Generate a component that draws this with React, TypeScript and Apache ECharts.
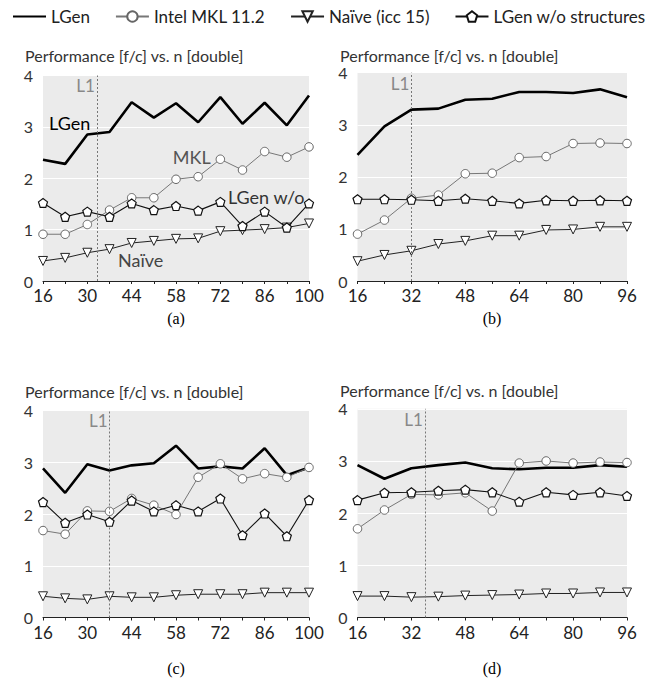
import React, { useEffect, useRef } from "react";
import * as echarts from "echarts";

const FONT = "Lato, 'Open Sans', 'DejaVu Sans', sans-serif";

const seriesNames = ["LGen", "Intel MKL 11.2", "Naïve (icc 15)", "LGen w/o structures"];

// x sizes
const nA = [16, 23, 30, 37, 44, 51, 58, 65, 72, 79, 86, 93, 100];
const nB = [16, 24, 32, 40, 48, 56, 64, 72, 80, 88, 96];

// panel (a)
const aLGen = [2.36, 2.28, 2.85, 2.9, 3.48, 3.18, 3.46, 3.09, 3.58, 3.06, 3.47, 3.03, 3.61];
const aMKL = [0.91, 0.91, 1.1, 1.38, 1.62, 1.62, 1.98, 2.03, 2.37, 2.16, 2.52, 2.41, 2.61];
const aNaive = [0.39, 0.45, 0.55, 0.62, 0.74, 0.78, 0.82, 0.83, 0.97, 0.99, 1.01, 1.04, 1.12];
const aWo = [1.52, 1.25, 1.35, 1.25, 1.51, 1.38, 1.46, 1.37, 1.54, 1.07, 1.35, 1.04, 1.51];

// panel (b)
const bLGen = [2.42, 2.97, 3.29, 3.31, 3.48, 3.5, 3.63, 3.63, 3.61, 3.68, 3.53];
const bMKL = [0.9, 1.17, 1.59, 1.65, 2.06, 2.07, 2.37, 2.39, 2.64, 2.65, 2.64];
const bNaive = [0.38, 0.5, 0.58, 0.71, 0.77, 0.87, 0.87, 0.98, 0.99, 1.04, 1.04];
const bWo = [1.57, 1.57, 1.56, 1.54, 1.58, 1.54, 1.49, 1.55, 1.54, 1.55, 1.54];

// panel (c)
const cLGen = [2.88, 2.41, 2.96, 2.84, 2.94, 2.98, 3.32, 2.88, 2.92, 2.88, 3.27, 2.75, 2.9];
const cMKL = [1.68, 1.61, 2.06, 2.05, 2.3, 2.17, 1.99, 2.71, 2.97, 2.68, 2.78, 2.71, 2.9];
const cNaive = [0.41, 0.37, 0.35, 0.41, 0.39, 0.39, 0.43, 0.45, 0.45, 0.45, 0.48, 0.48, 0.48];
const cWo = [2.23, 1.83, 1.99, 1.85, 2.26, 2.05, 2.17, 2.05, 2.3, 1.59, 2.01, 1.57, 2.27];

// panel (d)
const dLGen = [2.92, 2.66, 2.86, 2.92, 2.97, 2.86, 2.84, 2.87, 2.87, 2.92, 2.89];
const dMKL = [1.7, 2.06, 2.36, 2.35, 2.39, 2.04, 2.96, 3.0, 2.96, 2.98, 2.97];
const dNaive = [0.41, 0.41, 0.39, 0.4, 0.42, 0.43, 0.44, 0.46, 0.46, 0.48, 0.48];
const dWo = [2.25, 2.39, 2.4, 2.43, 2.45, 2.4, 2.22, 2.4, 2.35, 2.4, 2.33];

const l1Positions = [33, 32, 37, 36];
const captions = ["(a)", "(b)", "(c)", "(d)"];
const titleText = "Performance [f/c] vs. n [double]";

const PENTAGON = "path://M0,-1L0.951,-0.309L0.588,0.809L-0.588,0.809L-0.951,-0.309Z";

const panels = [
  { n: nA, lgen: aLGen, mkl: aMKL, naive: aNaive, wo: aWo, max: 100, interval: 14 },
  { n: nB, lgen: bLGen, mkl: bMKL, naive: bNaive, wo: bWo, max: 96, interval: 16 },
  { n: nA, lgen: cLGen, mkl: cMKL, naive: cNaive, wo: cWo, max: 100, interval: 14 },
  { n: nB, lgen: dLGen, mkl: dMKL, naive: dNaive, wo: dWo, max: 96, interval: 16 },
];

// annotations in panel (a), data coordinates
const annotations = [
  { text: "LGen", x: 17.9, y: 3.07, color: "#000" },
  { text: "MKL", x: 57, y: 2.41, color: "#555" },
  { text: "LGen w/o", x: 74.4, y: 1.64, color: "#333" },
  { text: "Naïve", x: 39.7, y: 0.41, color: "#444" },
];

const grids = [
  { left: 43, top: 75.5, width: 266, height: 205.5 },
  { left: 357.5, top: 72.7, width: 269.5, height: 208.3 },
  { left: 43, top: 410.5, width: 266, height: 207 },
  { left: 357.5, top: 408.8, width: 269.5, height: 208.7 },
];
const titlePos = [
  { x: 25, y: 55 },
  { x: 340, y: 55 },
  { x: 25, y: 391 },
  { x: 340, y: 390 },
];
const captionPos = [
  { x: 176, y: 318 },
  { x: 492, y: 318 },
  { x: 176, y: 668 },
  { x: 492, y: 668 },
];

const zip = (xs: number[], ys: number[]) => xs.map((x, i) => [x, ys[i]]);

export default function App() {
  const ref = useRef<HTMLDivElement>(null);
  useEffect(() => {
    if (!ref.current) return;
    const chart = echarts.init(ref.current, null, { renderer: "svg" });
    const xAxis: any[] = [];
    const yAxis: any[] = [];
    const series: any[] = [];
    panels.forEach((p, gi) => {
      xAxis.push({
        type: "value",
        gridIndex: gi,
        min: 16,
        max: p.max,
        interval: p.interval,
        axisLine: { show: true, onZero: false, lineStyle: { color: "#222", width: 1 } },
        axisTick: { show: true, length: 3, lineStyle: { color: "#222" } },
        minorTick: { show: true, splitNumber: 2, length: 3, lineStyle: { color: "#222" } },
        splitLine: { show: false },
        axisLabel: { fontSize: 17, color: "#222", fontFamily: FONT, margin: 6 },
      });
      yAxis.push({
        type: "value",
        gridIndex: gi,
        min: 0,
        max: 4,
        interval: 1,
        axisLine: { show: false },
        axisTick: { show: false },
        splitLine: { show: true, lineStyle: { color: "#fff", width: 1.2 } },
        axisLabel: { fontSize: 16, color: "#333", fontFamily: FONT, margin: 10 },
      });
      series.push({
        name: seriesNames[0],
        type: "line",
        xAxisIndex: gi,
        yAxisIndex: gi,
        data: zip(p.n, p.lgen),
        showSymbol: false,
        symbol: "none",
        lineStyle: { color: "#000", width: 2.6 },
        itemStyle: { color: "#000" },
        z: 3,
        markLine: {
          silent: true,
          symbol: ["none", "none"],
          label: { show: false },
          lineStyle: { color: "#777", type: [2, 2], width: 1 },
          data: [{ xAxis: l1Positions[gi] }],
        },
      });
      series.push({
        name: seriesNames[1],
        type: "line",
        xAxisIndex: gi,
        yAxisIndex: gi,
        data: zip(p.n, p.mkl),
        symbol: "circle",
        symbolSize: 8.5,
        lineStyle: { color: "#777", width: 1 },
        itemStyle: { color: "#fff", borderColor: "#666", borderWidth: 1 },
        z: 4,
      });
      series.push({
        name: seriesNames[2],
        type: "line",
        xAxisIndex: gi,
        yAxisIndex: gi,
        data: zip(p.n, p.naive),
        symbol: "triangle",
        symbolRotate: 180,
        symbolSize: 9,
        lineStyle: { color: "#222", width: 1 },
        itemStyle: { color: "#fff", borderColor: "#222", borderWidth: 1 },
        z: 4,
      });
      series.push({
        name: seriesNames[3],
        type: "line",
        xAxisIndex: gi,
        yAxisIndex: gi,
        data: zip(p.n, p.wo),
        symbol: PENTAGON,
        symbolSize: 9,
        lineStyle: { color: "#111", width: 1.1 },
        itemStyle: { color: "#fff", borderColor: "#111", borderWidth: 1.2 },
        z: 5,
      });
    });

    const option: any = {
      animation: false,
      backgroundColor: "#fff",
      textStyle: { fontFamily: FONT },
      legend: {
        data: [
          { name: seriesNames[0], itemStyle: { opacity: 0 } },
          seriesNames[1],
          seriesNames[2],
          seriesNames[3],
        ],
        orient: "horizontal",
        left: 10,
        top: 3,
        width: 647,
        padding: [5, 0, 5, 2],
        itemWidth: 33,
        itemHeight: 13,
        itemGap: 25,
        selectedMode: false,
        textStyle: { fontSize: 17, color: "#222", fontFamily: FONT },
      },
      grid: grids.map((g) => ({
        ...g,
        show: true,
        backgroundColor: "#ebebeb",
        borderWidth: 0,
        containLabel: false,
      })),
      xAxis,
      yAxis,
      series,
    };
    chart.setOption(option);

    const graphics: any[] = [];
    panels.forEach((_p, gi) => {
      graphics.push({
        type: "text",
        x: titlePos[gi].x,
        y: titlePos[gi].y,
        style: { text: titleText, font: `16px ${FONT}`, fill: "#333", align: "left", verticalAlign: "middle" },
      });
      graphics.push({
        type: "text",
        x: captionPos[gi].x,
        y: captionPos[gi].y,
        style: {
          text: captions[gi],
          font: "16px 'Liberation Serif', 'Times New Roman', serif",
          fill: "#000",
          align: "center",
          verticalAlign: "middle",
        },
      });
      const pt = chart.convertToPixel({ gridIndex: gi } as any, [l1Positions[gi], 3.8]) as number[];
      graphics.push({
        type: "text",
        x: pt[0] - 2,
        y: pt[1],
        style: { text: "L1", font: `17px ${FONT}`, fill: "#888", align: "right", verticalAlign: "middle" },
      });
    });
    annotations.forEach((a) => {
      const pt = chart.convertToPixel({ gridIndex: 0 } as any, [a.x, a.y]) as number[];
      graphics.push({
        type: "text",
        x: pt[0],
        y: pt[1],
        z: 10,
        style: { text: a.text, font: `18px ${FONT}`, fill: a.color, align: "left", verticalAlign: "middle" },
      });
    });
    chart.setOption({ graphic: graphics });

    return () => chart.dispose();
  }, []);
  return (
    <div
      ref={ref}
      style={{ position: "absolute", left: 0, top: 0, width: 657, height: 692 }}
    />
  );
}
